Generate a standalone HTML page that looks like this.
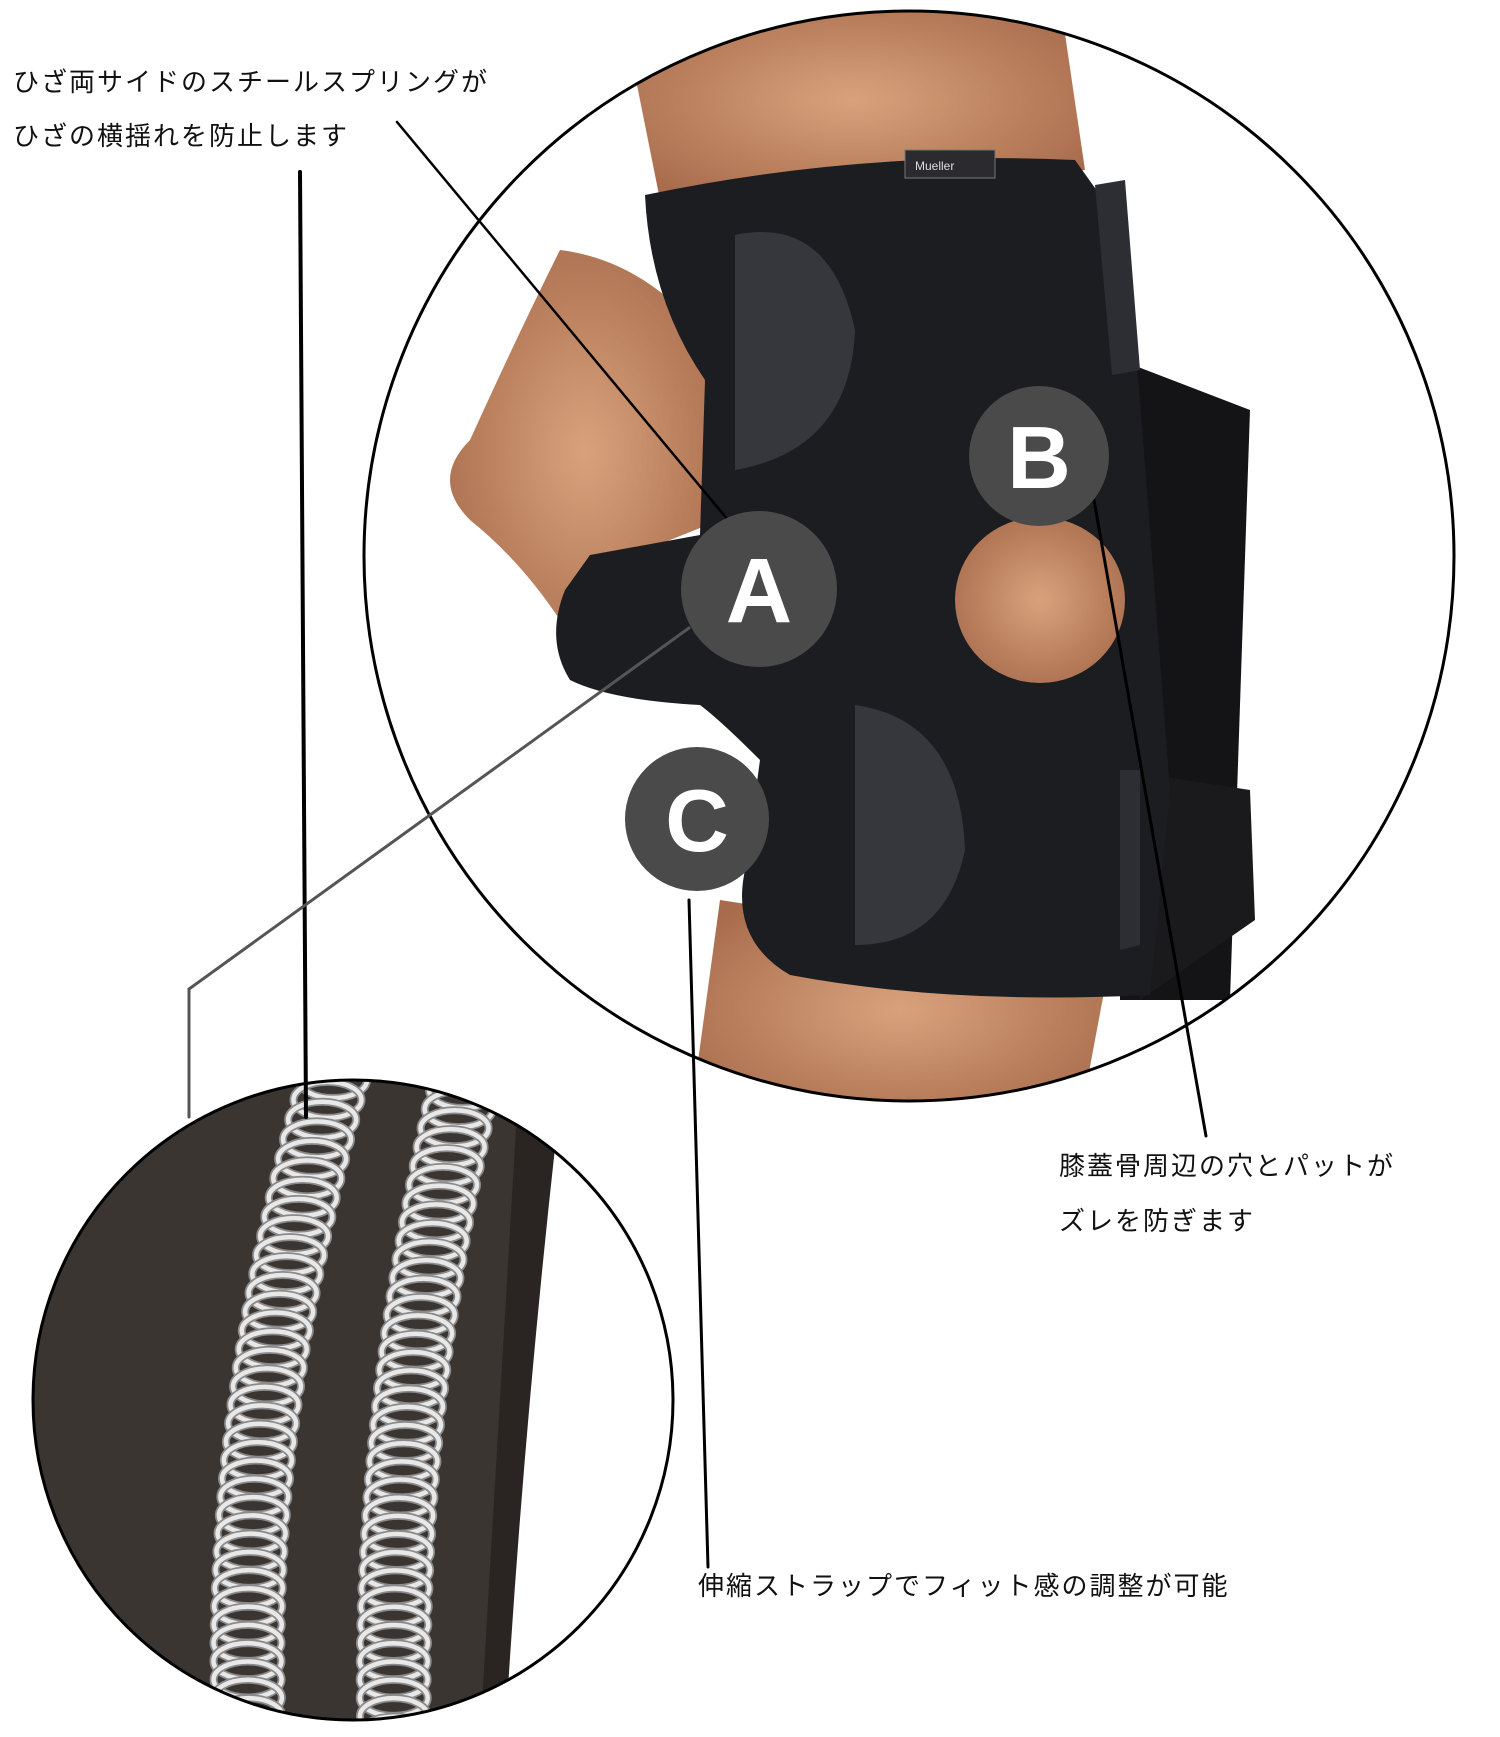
<!DOCTYPE html>
<html><head><meta charset="utf-8"><style>
html,body{margin:0;padding:0;background:#fff;}
svg{display:block}
text{font-family:"Liberation Sans","Noto Sans CJK JP",sans-serif;}
</style></head><body>
<svg id="s" width="1500" height="1737" viewBox="0 0 1500 1737" xmlns="http://www.w3.org/2000/svg">
<defs>
<clipPath id="big"><circle cx="909" cy="556" r="545"/></clipPath>
<clipPath id="small"><circle cx="353" cy="1400" r="320"/></clipPath>
<radialGradient id="skin" cx="0.5" cy="0.5" r="0.6"><stop offset="0" stop-color="#d9a27c"/><stop offset="1" stop-color="#a86c4c"/></radialGradient>
</defs>
<g clip-path="url(#big)">
<rect x="0" y="0" width="1500" height="1200" fill="#fff"/>
<path d="M620,0 L1060,0 L1085,170 L660,200 Z" fill="url(#skin)"/>
<path d="M720,900 L1110,960 L1080,1120 L690,1120 Z" fill="url(#skin)"/>
<path d="M560,250 Q640,260 700,330 L720,520 L620,560 L630,650 Q580,665 560,620 Q520,560 470,520 Q430,480 470,440 Q520,330 560,250 Z" fill="url(#skin)"/>
<path d="M1120,360 L1250,410 L1230,1000 L1120,1000 Z" fill="#141416"/>
<path d="M1120,770 L1250,790 L1255,920 L1140,1000 Z" fill="#1a1a1d"/>
<path d="M645,195 Q860,150 1075,160 L1125,230 L1140,400 L1170,790 L1150,995 Q950,1005 790,975 Q730,940 745,870 L760,760 Q720,720 700,705 Q610,700 570,680 Q545,640 565,590 L590,555 L700,535 L705,380 Q650,300 645,195 Z" fill="#1c1d21"/>
<path d="M735,235 Q830,215 855,330 Q850,450 735,470 Z" fill="#36373c"/>
<path d="M855,705 Q960,720 965,850 Q945,945 855,945 Z" fill="#36373c"/>
<ellipse cx="1040" cy="600" rx="85" ry="83" fill="url(#skin)"/>
<rect x="905" y="150" width="90" height="28" fill="#2b2b2f" stroke="#777" stroke-width="1"/>
<text x="915" y="170" font-size="12" fill="#ddd">Mueller</text>
<path d="M1095,185 L1125,180 L1140,370 L1112,375 Z" fill="#2d2e33"/>
<path d="M1120,770 L1140,770 L1140,945 L1120,950 Z" fill="#2d2e33"/>
</g>
<circle cx="909" cy="556" r="545" fill="none" stroke="#000" stroke-width="3"/>

<g clip-path="url(#small)">
<rect x="0" y="1060" width="700" height="700" fill="#3b3531"/>
<path d="M560,1060 L700,1060 L700,1737 L500,1737 Q520,1400 560,1060 Z" fill="#fff"/>
<path d="M520,1060 L565,1060 Q525,1400 505,1737 L480,1737 Q500,1400 520,1060 Z" fill="#2a2522"/>
<g id="springs" fill="none"></g>
</g>
<circle cx="353" cy="1400" r="320" fill="none" stroke="#000" stroke-width="3"/>

<g fill="none" stroke-linecap="round">
<line x1="397" y1="122" x2="728" y2="520" stroke="#000" stroke-width="2.5"/>
<line x1="300" y1="172" x2="306" y2="1117" stroke="#000" stroke-width="4"/>
<line x1="1094" y1="500" x2="1206" y2="1136" stroke="#000" stroke-width="3"/>
<line x1="689" y1="900" x2="708" y2="1567" stroke="#000" stroke-width="3"/>
<polyline points="689,628 189,989 189,1117" stroke="#555" stroke-width="3"/>
</g>

<g font-weight="bold" fill="#fff" text-anchor="middle">
<circle cx="759" cy="589" r="78" fill="#4a4a4a"/>
<text x="759" y="622" font-size="92">A</text>
<circle cx="1039" cy="456" r="70" fill="#4a4a4a"/>
<text x="1039" y="488" font-size="88">B</text>
<circle cx="697" cy="819" r="72" fill="#4a4a4a"/>
<text x="697" y="851" font-size="88">C</text>
</g>

<g font-size="26" fill="#111" letter-spacing="2">
<text x="13" y="91">ひざ両サイドのスチールスプリングが</text>
<text x="13" y="145">ひざの横揺れを防止します</text>
<text x="1059" y="1175">膝蓋骨周辺の穴とパットが</text>
<text x="1059" y="1230">ズレを防ぎます</text>
<text x="698" y="1595">伸縮ストラップでフィット感の調整が可能</text>
</g>
</svg>
<script>
(function(){
var g=document.getElementById('springs'),ns='http://www.w3.org/2000/svg';
function bez(p,t){var u=1-t;return[u*u*u*p[0][0]+3*u*u*t*p[1][0]+3*u*t*t*p[2][0]+t*t*t*p[3][0],u*u*u*p[0][1]+3*u*u*t*p[1][1]+3*u*t*t*p[2][1]+t*t*t*p[3][1]];}
var bands=[[[333,1080],[262,1333],[236,1555],[252,1790]],[[463,1090],[408,1333],[386,1555],[396,1790]]];
bands.forEach(function(b){
 for(var i=0;i<=38;i++){var t=i/38,p=bez(b,t);
  [['#8a8a8a',8],['#e8e8e8',4.5]].forEach(function(s){
   var e=document.createElementNS(ns,'ellipse');
   e.setAttribute('cx',p[0]);e.setAttribute('cy',p[1]);e.setAttribute('rx',34);e.setAttribute('ry',18);
   e.setAttribute('stroke',s[0]);e.setAttribute('stroke-width',s[1]);g.appendChild(e);});
 }});
})();
</script>
</body></html>
